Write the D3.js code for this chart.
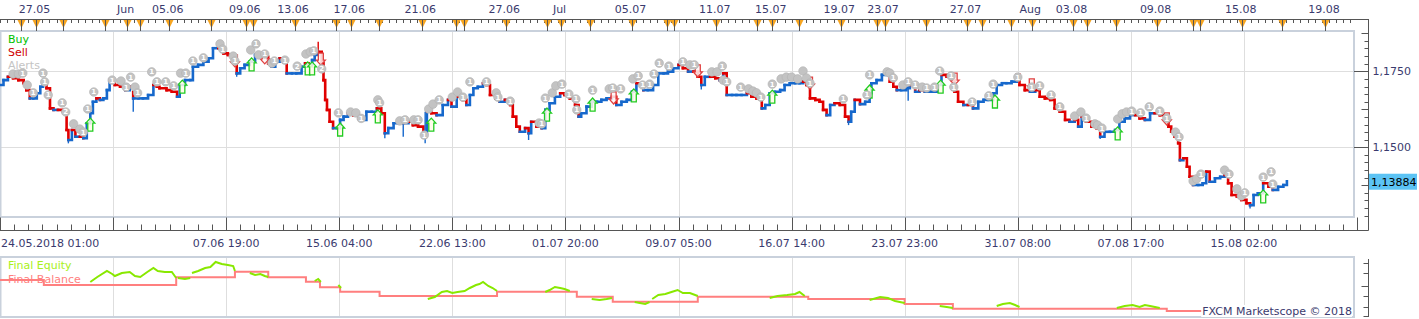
<!DOCTYPE html>
<html>
<head>
<meta charset="utf-8">
<script src="https://cdn.jsdelivr.net/npm/d3@7"></script>
<style>
body { margin: 0; background: #fff; }
text { font-family: "DejaVu Sans", Verdana, sans-serif; font-size: 11px; }
</style>
</head>
<body>
<svg id="chart" width="1419" height="319"></svg>
<script>
// ---- data (bar index = hourly bar since 24.05.2018 01:00) ----
var closeBars = [0,4,9,15,21,27,30,34,38,42,46,49,53,57,61,66,72,76,78,82,86,91,95,99,103,106,110,114,118,122,125,131,137,143,148,152,158,163,169,175,179,182,190,196,202,205,211,217,220,226,232,238,243,249,255,260,266,270,274,279,285,291,297,302,306,310,314,319,323,327,333,338,344,348,352,356,359,363,367,369,371,373,376,380,384,388,392,397,403,409,413,418,424,430,435,439,443,449,454,460,466,471,477,483,487,492,498,505,511,515,521,528,532,536,540,545,551,555,559,565,570,576,582,585,589,593,599,603,606,612,618,622,627,633,639,644,650,656,660,663,669,675,681,686,692,698,703,709,715,721,726,734,739,745,751,757,762,768,774,779,785,791,796,800,804,810,816,821,825,829,835,840,846,852,857,863,869,873,878,884,890,895,901,907,912,916,920,924,930,935,939,943,947,952,958,964,968,971,975,981,987,992,994,1000,1006,1011,1015,1019,1023,1028,1034,1038,1044,1049,1055,1061,1066,1070,1074,1080,1086,1089,1093,1099,1104,1110,1116,1122,1127,1133,1137,1143,1148,1154,1160,1163,1169,1175,1181,1186,1192,1198,1203,1209,1215,1220,1226,1230,1234,1239,1245,1251,1255,1260,1266,1272,1277,1283,1289,1295,1300,1306,1312,1317,1323,1329,1333,1336,1340,1344,1346,1350,1354,1357,1361,1367,1372,1376,1380,1386,1392,1397,1401,1405,1411,1416,1422,1426,1430,1435,1441,1447,1452,1458,1464,1468];
var closes = [1.1705,1.1721,1.1732,1.1727,1.1721,1.1711,1.1688,1.1661,1.1661,1.1678,1.1699,1.1711,1.1694,1.1628,1.1623,1.1623,1.1617,1.1557,1.1524,1.1557,1.1535,1.1535,1.1530,1.1579,1.1612,1.1650,1.1661,1.1656,1.1661,1.1688,1.1721,1.1705,1.1699,1.1688,1.1699,1.1661,1.1661,1.1661,1.1672,1.1705,1.1699,1.1694,1.1688,1.1683,1.1666,1.1705,1.1721,1.1721,1.1765,1.1771,1.1782,1.1793,1.1826,1.1826,1.1809,1.1804,1.1787,1.1743,1.1760,1.1771,1.1782,1.1804,1.1804,1.1798,1.1776,1.1765,1.1782,1.1793,1.1782,1.1743,1.1743,1.1743,1.1765,1.1776,1.1771,1.1787,1.1804,1.1814,1.1776,1.1721,1.1656,1.1623,1.1584,1.1563,1.1563,1.1590,1.1601,1.1612,1.1606,1.1595,1.1590,1.1617,1.1617,1.1628,1.1612,1.1546,1.1563,1.1579,1.1584,1.1579,1.1584,1.1573,1.1568,1.1546,1.1617,1.1612,1.1606,1.1639,1.1656,1.1634,1.1666,1.1656,1.1639,1.1672,1.1694,1.1699,1.1711,1.1705,1.1672,1.1661,1.1650,1.1656,1.1639,1.1601,1.1568,1.1551,1.1563,1.1546,1.1584,1.1568,1.1563,1.1623,1.1645,1.1666,1.1678,1.1672,1.1661,1.1639,1.1601,1.1612,1.1634,1.1650,1.1650,1.1656,1.1661,1.1666,1.1639,1.1650,1.1656,1.1683,1.1711,1.1688,1.1688,1.1705,1.1743,1.1743,1.1749,1.1760,1.1771,1.1760,1.1749,1.1749,1.1732,1.1705,1.1732,1.1732,1.1727,1.1721,1.1743,1.1672,1.1672,1.1672,1.1672,1.1678,1.1666,1.1661,1.1628,1.1639,1.1678,1.1683,1.1688,1.1705,1.1711,1.1711,1.1711,1.1716,1.1705,1.1661,1.1656,1.1650,1.1623,1.1606,1.1639,1.1645,1.1639,1.1601,1.1584,1.1617,1.1656,1.1642,1.1650,1.1678,1.1711,1.1721,1.1738,1.1743,1.1716,1.1699,1.1688,1.1688,1.1694,1.1705,1.1683,1.1688,1.1683,1.1683,1.1683,1.1705,1.1738,1.1732,1.1721,1.1683,1.1650,1.1639,1.1639,1.1628,1.1650,1.1656,1.1656,1.1678,1.1705,1.1711,1.1711,1.1716,1.1738,1.1705,1.1688,1.1683,1.1688,1.1666,1.1661,1.1656,1.1628,1.1617,1.1590,1.1584,1.1590,1.1568,1.1601,1.1584,1.1568,1.1563,1.1535,1.1551,1.1551,1.1557,1.1584,1.1595,1.1606,1.1606,1.1595,1.1590,1.1612,1.1612,1.1606,1.1590,1.1568,1.1551,1.1535,1.1513,1.1458,1.1464,1.1436,1.1403,1.1376,1.1376,1.1382,1.1420,1.1387,1.1398,1.1403,1.1409,1.1382,1.1343,1.1338,1.1327,1.1316,1.1310,1.1343,1.1349,1.1382,1.1370,1.1360,1.1370,1.1376,1.13884];

// a few long shadows
var wickBars = [78,152,270,363,439,460,485,603,800,968,1036,1255,1426];
var wickPrices = [1.1513,1.1617,1.1732,1.1847,1.1530,1.1535,1.1513,1.1524,1.1690,1.1573,1.1653,1.1527,1.1299];

var alertBars = [15,21,26,31,38,49,51,55,71,75,84,91,95,100,107,128,138,144,149,154,157,173,179,189,198,206,212,220,232,251,254,266,268,286,292,295,302,310,313,325,339,349,354,358,367,386,400,406,412,431,433,456,462,472,477,484,489,494,501,
  516,522,528,536,555,566,568,582,615,618,622,630,634,641,649,657,658,676,695,699,708,722,728,733,741,746,752,763,779,787,792,812,818,824,825,829,845,854,859,863,868,881,891,897,903,910,916,920,924,962,989,992,
  1012,1015,1019,1030,1036,1044,1052,1057,1066,1072,1085,1088,1109,1128,1133,1161,1177,1186,1199,1209,1226,1233,1239,1249,1252,1257,1275,1280,1285,1291,1301,1311,1323,1331,1341,1345,1361,1365,1370,1397,1402,1411,1416,1420,1441,1450,1452];
var alertPrices = [1.1741,1.1741,1.1744,1.1705,1.1679,1.1744,1.1715,1.1672,1.1646,1.1616,1.1577,1.1560,1.1550,1.1626,1.1682,1.1721,1.1718,1.1698,1.1731,1.1698,1.1679,1.1748,1.1715,1.1715,1.1702,1.1744,1.1744,1.1784,1.1794,1.1840,1.1823,1.1800,1.1784,1.1820,1.1840,1.1804,1.1807,1.1777,1.1784,1.1787,1.1767,1.1807,1.1814,1.1817,1.1758,1.1613,1.1616,1.1613,1.1595,1.1656,1.1646,1.1587,1.1590,1.1590,1.1590,1.1540,1.1626,1.1642,1.1656,
  1.1665,1.1682,1.1665,1.1715,1.1715,1.1679,1.1665,1.1652,1.1580,1.1577,1.1662,1.1679,1.1702,1.1708,1.1675,1.1659,1.1623,1.1688,1.1692,1.1695,1.1692,1.1725,1.1735,1.1705,1.1708,1.1741,1.1777,1.1767,1.1781,1.1771,1.1771,1.1748,1.1748,1.1767,1.1721,1.1715,1.1698,1.1692,1.1685,1.1679,1.1665,1.1708,1.1725,1.1731,1.1731,1.1725,1.1751,1.1728,1.1711,1.1659,1.1672,1.1738,
  1.1748,1.1744,1.1728,1.1705,1.1715,1.1705,1.1698,1.1695,1.1698,1.1751,1.1735,1.1698,1.1649,1.1669,1.1708,1.1731,1.1698,1.1702,1.1672,1.1633,1.1603,1.1616,1.1596,1.1577,1.1573,1.1563,1.1593,1.1610,1.1616,1.1619,1.1613,1.1633,1.1619,1.1596,1.1550,1.1534,1.1389,1.1396,1.1412,1.1425,1.1412,1.1363,1.1340,1.1350,1.1402,1.1419,1.1379];
var alertTwos = [31,75,339,367];

var buyBars = [103,208,287,351,356,388,431,492,624,676,723,881,992,1073,1135,1275,1441];
var buyPrices = [1.1596,1.1721,1.1794,1.1781,1.1781,1.1580,1.1623,1.1596,1.1629,1.1662,1.1692,1.1688,1.1705,1.1721,1.1672,1.1567,1.1360];
var sellBars = [268,302,366,700,796,924,1089,1177,1331];
var sellPrices = [1.1804,1.1814,1.1810,1.1682,1.1771,1.1731,1.1744,1.1725,1.1613];

var balanceBars = [0,50,201,268,306,349,365,388,433,567,658,699,796,922,1032,1087,1331,1468];
var balanceValues = [9790,9740,9817,9873,9817,9773,9717,9673,9630,9673,9623,9573,9623,9600,9550,9503,9480,9480];

// equity only while a position is open, null breaks the line
var equityBars = [103,111,122,128,131,139,148,154,160,168,175,180,188,196,201,null,203,211,217,null,219,226,234,240,246,253,260,266,268,null,285,291,297,302,306,null,359,363,366,null,386,389,null,488,496,504,510,516,522,530,536,543,547,551,557,562,567,null,622,627,633,639,644,650,null,675,684,692,698,null,724,730,736,741,null,744,751,759,766,773,779,787,796,null,878,887,898,907,912,918,null,992,1004,1013,1021,1032,null,1072,1080,1087,null,1137,1144,1152,1158,1163,null,1274,1283,1292,1300,1306,1312,1323];
var equityValues = [9770,9820,9880,9850,9830,9860,9870,9830,9820,9870,9910,9880,9870,9870,9810,null,9810,9800,9810,null,9860,9880,9910,9920,9970,9950,9940,9930,9880,null,9860,9840,9850,9830,9820,null,9780,9800,9770,null,9740,9710,null,9600,9620,9670,9680,9660,9670,9680,9710,9740,9750,9770,9730,9710,9680,null,9670,9690,9720,9710,9700,9680,null,9600,9590,9600,9610,null,9570,9560,9550,9570,null,9600,9640,9650,9670,9690,9660,9660,9630,null,9610,9630,9640,9650,9670,9630,null,9590,9620,9610,9580,9560,null,9530,9520,9510,null,9530,9550,9560,9540,9520,null,9510,9530,9540,9520,9540,9530,9510];

var timeLabels = ["24.05.2018 01:00","","07.06 19:00","15.06 04:00","22.06 13:00","01.07 20:00","09.07 05:00","16.07 14:00","23.07 23:00","31.07 08:00","07.08 17:00","15.08 02:00"];
var barsPerLabel = 129;

var newsBars = [24,41,72,120,145,160,193,241,281,289,336,383,400,432,481,520,529,577,624,640,673,721,761,769,817,863,881,912,959,1000,1009,1056,1103,1120,1153,1177,1224,1240,1273,1320,1361,1369,1417,1463,1512];
var topLabels = ["27.05","Jun","05.06","09.06","13.06","17.06","21.06","27.06","Jul","05.07","11.07","15.07","19.07","23.07","27.07","Aug","03.08","09.08","15.08","19.08"];
var topLabelBars = [41,145,193,281,336,400,481,577,640,721,817,881,959,1009,1103,1177,1224,1320,1417,1512];

var priceLabels = [1.1750, 1.1500];
var lastPrice = 1.13884;
var eqTicks = [9960, 9860, 9730, 9630, 9520, 9430];

// ---- layout ----
var svg = d3.select("#chart");
var plotR = 1354, plotT = 31, plotB = 217, axisX = 1368.5;
var lowT = 257, lowB = 317;
var blue = "#1668cc", red = "#e00000", textCol = "#3a3a6e", gridCol = "#dedede", frameCol = "#c9d1dc";

var x = d3.scaleLinear().domain([0, 1548]).range([0, 1357]);
var y = d3.scaleLinear().domain([1.125, 1.1875]).range([223.3, 33.3]);
var yEq = d3.scaleLinear().domain([9420, 10000]).range([317, 259]);
var fmtPrice = function(v, n) { return d3.format("." + n + "f")(v).replace(".", ","); };

var majors = d3.range(0, 13).map(function(k) { return k * barsPerLabel; });

svg.append("rect").attr("width", 1419).attr("height", 319).attr("fill", "#fff");

// clip for the price panel
svg.append("clipPath").attr("id", "clipMain")
  .append("rect").attr("x", 0).attr("y", plotT + 1).attr("width", plotR - 1).attr("height", plotB - plotT - 2);

// ---- grids ----
var grid = svg.append("g");
grid.selectAll("line.v").data(majors.slice(1, 12)).enter().append("line")
  .attr("x1", function(d) { return Math.round(x(d)) + 0.5; })
  .attr("x2", function(d) { return Math.round(x(d)) + 0.5; })
  .attr("y1", plotT).attr("y2", plotB)
  .attr("stroke", gridCol);
grid.selectAll("line.h").data(priceLabels).enter().append("line")
  .attr("x1", 0).attr("x2", plotR)
  .attr("y1", function(d) { return Math.round(y(d)) + 0.5; })
  .attr("y2", function(d) { return Math.round(y(d)) + 0.5; })
  .attr("stroke", gridCol);
grid.selectAll("line.lv").data(majors.slice(1, 12)).enter().append("line")
  .attr("x1", function(d) { return Math.round(x(d)) + 0.5; })
  .attr("x2", function(d) { return Math.round(x(d)) + 0.5; })
  .attr("y1", lowT).attr("y2", lowB)
  .attr("stroke", gridCol);

// frames
svg.append("rect").attr("x", 0.5).attr("y", plotT).attr("width", plotR - 0.5).attr("height", plotB - plotT)
  .attr("fill", "none").attr("stroke", frameCol).attr("stroke-width", 2);
svg.append("rect").attr("x", 0.5).attr("y", lowT).attr("width", plotR - 0.5).attr("height", lowB - lowT)
  .attr("fill", "none").attr("stroke", frameCol).attr("stroke-width", 2);

// ---- top date strip ----
var topStrip = svg.append("g");
topStrip.append("line").attr("x1", 0).attr("x2", axisX).attr("y1", 19.5).attr("y2", 19.5).attr("stroke", "#555");
topStrip.selectAll("line.small").data(d3.range(0, 1548, barsPerLabel / 16)).enter().append("line")
  .attr("x1", function(d) { return Math.round(x(d)) + 0.5; })
  .attr("x2", function(d) { return Math.round(x(d)) + 0.5; })
  .attr("y1", 19.5).attr("y2", 23).attr("stroke", "#555");
topStrip.selectAll("path.news").data(newsBars).enter().append("path")
  .attr("d", function(d) { var cx = Math.round(x(d)) + 0.5; return "M" + (cx - 4) + ",20L" + (cx + 4) + ",20L" + cx + ",28Z"; })
  .attr("fill", "#f7a520");
topStrip.selectAll("line.news").data(newsBars).enter().append("line")
  .attr("x1", function(d) { return Math.round(x(d)) + 0.5; })
  .attr("x2", function(d) { return Math.round(x(d)) + 0.5; })
  .attr("y1", 19.5).attr("y2", 31).attr("stroke", "#555");
topStrip.selectAll("text").data(topLabels).enter().append("text")
  .attr("x", function(d, i) { return x(topLabelBars[i]) - 1.5; })
  .attr("y", 13).attr("text-anchor", "middle").attr("fill", textCol)
  .text(function(d) { return d; });

// ---- price panel ----
var plot = svg.append("g").attr("clip-path", "url(#clipMain)");

var candles = [];
for (var i = 1; i < closeBars.length; i++) {
  candles.push({ b0: closeBars[i - 1], b1: closeBars[i], o: closes[i - 1], c: closes[i] });
}
plot.selectAll("path.candle").data(candles).enter().append("path")
  .attr("d", function(d) {
    return "M" + x(d.b0).toFixed(1) + "," + y(d.o).toFixed(1) + "H" + x(d.b1).toFixed(1) + "V" + y(d.c).toFixed(1);
  })
  .attr("fill", "none")
  .attr("stroke", function(d) { return d.c >= d.o ? blue : red; })
  .attr("stroke-width", 2.6)
  .attr("stroke-linecap", "square");

plot.selectAll("line.wick").data(wickBars).enter().append("line")
  .attr("x1", function(d) { return x(d); })
  .attr("x2", function(d) { return x(d); })
  .attr("y1", function(d) { return y(closes[d3.bisectLeft(closeBars, d)]); })
  .attr("y2", function(d, i) { return y(wickPrices[i]); })
  .attr("stroke", function(d, i) { return wickPrices[i] > closes[d3.bisectLeft(closeBars, d)] ? red : blue; })
  .attr("stroke-width", 1.4);

// buy / sell markers
plot.selectAll("path.buy").data(d3.zip(buyBars, buyPrices)).enter().append("path")
  .attr("transform", function(d) { return "translate(" + x(d[0]) + "," + y(d[1]) + ")"; })
  .attr("d", "M0,0L4.5,5L2.5,5L2.5,13L-2.5,13L-2.5,5L-4.5,5Z")
  .attr("fill", "#fffbe8").attr("fill-opacity", 0.85)
  .attr("stroke", "#22cc22").attr("stroke-width", 1.3);
plot.selectAll("path.sell").data(d3.zip(sellBars, sellPrices)).enter().append("path")
  .attr("transform", function(d) { return "translate(" + x(d[0]) + "," + y(d[1]) + ")"; })
  .attr("d", "M-2.5,0L2.5,0L2.5,7L4.5,7L0,12L-4.5,7L-2.5,7Z")
  .attr("fill", "#fff4f4").attr("fill-opacity", 0.85)
  .attr("stroke", "#e04040").attr("stroke-width", 1.3);

// alerts: a later alert hides the number of one right under it
var alertData = d3.zip(alertBars, alertPrices);
alertData.forEach(function(d, i) {
  d.hidden = alertData.slice(i + 1).some(function(e) {
    return Math.abs(x(e[0]) - x(d[0])) < 7 && Math.abs(y(e[1]) - y(d[1])) < 8;
  });
});
var alerts = plot.selectAll("g.alert").data(alertData).enter().append("g")
  .attr("transform", function(d) { return "translate(" + x(d[0]).toFixed(1) + "," + y(d[1]).toFixed(1) + ")"; });
alerts.append("circle").attr("r", 4.3).attr("fill", "#c3c3c3").attr("stroke", "#b2b2b2").attr("stroke-width", 0.6);
alerts.filter(function(d) { return !d.hidden; }).append("text").attr("y", 2.4).attr("text-anchor", "middle")
  .style("font-size", "7px").style("font-weight", "bold").attr("fill", "#fff")
  .text(function(d) { return alertTwos.indexOf(d[0]) >= 0 ? "2" : "1"; });

// legend
var legend = svg.append("g");
legend.selectAll("text").data([["Buy", "#00c000"], ["Sell", "#d00000"], ["Alerts", "#c4c4c4"]]).enter().append("text")
  .attr("x", 8).attr("y", function(d, i) { return 43 + i * 13; })
  .attr("fill", function(d) { return d[1]; })
  .text(function(d) { return d[0]; });

// ---- right price axis ----
var rightAxis = svg.append("g");
rightAxis.append("line").attr("x1", axisX).attr("x2", axisX).attr("y1", 19).attr("y2", 230.5).attr("stroke", "#555");
var priceTicks = d3.range(0, 26).map(function(k) { return 1.1250 + k * 0.0025; })
  .filter(function(v) { return y(v) > plotT && y(v) < plotB; });
rightAxis.selectAll("line.tick").data(priceTicks).enter().append("line")
  .attr("x1", function(v) {
    var k = Math.round((v - 1.125) / 0.0025);
    if (k % 10 === 0) return plotR;
    if (k % 5 === 0) return axisX - 7;
    return axisX - 4;
  })
  .attr("x2", axisX)
  .attr("y1", function(v) { return Math.round(y(v)) + 0.5; })
  .attr("y2", function(v) { return Math.round(y(v)) + 0.5; })
  .attr("stroke", "#555");
rightAxis.selectAll("text").data(priceLabels).enter().append("text")
  .attr("x", axisX + 4).attr("y", function(v) { return y(v) + 4; })
  .attr("fill", textCol)
  .text(function(v) { return fmtPrice(v, 4); });
rightAxis.append("rect").attr("x", axisX + 0.5).attr("y", y(lastPrice) - 7.5).attr("width", 48).attr("height", 16)
  .attr("fill", "#5cc3f4");
rightAxis.append("text").attr("x", axisX + 2.5).attr("y", y(lastPrice) + 4.5).attr("fill", "#000")
  .text(fmtPrice(lastPrice, 5));

// ---- bottom time axis ----
var timeAxis = svg.append("g");
timeAxis.append("line").attr("x1", 0).attr("x2", axisX).attr("y1", 230.5).attr("y2", 230.5).attr("stroke", "#555");
timeAxis.selectAll("line.minor").data(d3.range(0, 1549, barsPerLabel / 8)).enter().append("line")
  .attr("x1", function(d) { return Math.round(x(d)) + 0.5; })
  .attr("x2", function(d) { return Math.round(x(d)) + 0.5; })
  .attr("y1", 224.5).attr("y2", 230.5).attr("stroke", "#555");
timeAxis.selectAll("line.major").data(majors).enter().append("line")
  .attr("x1", function(d) { return Math.round(x(d)) + 0.5; })
  .attr("x2", function(d) { return Math.round(x(d)) + 0.5; })
  .attr("y1", 217.5).attr("y2", 230.5).attr("stroke", "#555");
timeAxis.selectAll("text").data(timeLabels).enter().append("text")
  .attr("x", function(d, i) { return i === 0 ? 1 : x(majors[i]); })
  .attr("y", 247)
  .attr("text-anchor", function(d, i) { return i === 0 ? "start" : "middle"; })
  .attr("fill", textCol)
  .text(function(d) { return d; });

// ---- lower equity panel ----
var low = svg.append("g");
low.append("line").attr("x1", axisX).attr("x2", axisX).attr("y1", 259).attr("y2", lowB).attr("stroke", "#555");
low.selectAll("line.tick").data(eqTicks).enter().append("line")
  .attr("x1", function(v, i) { return i === 2 ? axisX - 7 : axisX - 5; })
  .attr("x2", axisX)
  .attr("y1", function(v) { return Math.round(yEq(v)) + 0.5; })
  .attr("y2", function(v) { return Math.round(yEq(v)) + 0.5; })
  .attr("stroke", "#555");

var balLine = d3.line().curve(d3.curveStepAfter)
  .x(function(d) { return x(d[0]); })
  .y(function(d) { return yEq(d[1]); });
low.append("path").datum(d3.zip(balanceBars, balanceValues))
  .attr("d", balLine).attr("fill", "none").attr("stroke", "#ff7f7f").attr("stroke-width", 2);

var eqLine = d3.line()
  .defined(function(d) { return d[1] !== null; })
  .x(function(d) { return x(d[0]); })
  .y(function(d) { return yEq(d[1]); });
low.append("path").datum(d3.zip(equityBars, equityValues))
  .attr("d", eqLine).attr("fill", "none").attr("stroke", "#88e800").attr("stroke-width", 2);

low.append("text").attr("x", 8).attr("y", 269).attr("fill", "#a8f020").text("Final Equity");
low.append("text").attr("x", 8).attr("y", 282.5).attr("fill", "#ff8080").text("Final Balance");

var brandBg = low.append("rect").attr("fill", "#fff");
var brand = low.append("text").attr("x", plotR - 2).attr("y", 315).attr("text-anchor", "end")
  .attr("fill", textCol).text("FXCM Marketscope \u00a9 2018");
var bb = brand.node().getBBox();
brandBg.attr("x", bb.x - 1).attr("y", bb.y).attr("width", bb.width + 1).attr("height", bb.height - 1);
</script>
</body>
</html>
